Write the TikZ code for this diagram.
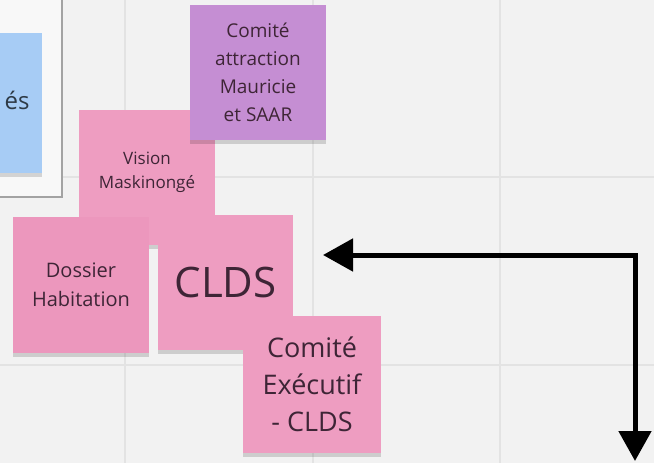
\documentclass[tikz,border=0pt]{standalone}
\usepackage{fontspec}
\setmainfont{Open Sans}
\usetikzlibrary{arrows.meta,shadows}
\definecolor{board}{HTML}{F2F2F2}
\definecolor{gridline}{HTML}{E3E3E3}
\definecolor{framefill}{HTML}{F8F8F8}
\definecolor{frameline}{HTML}{A3A3A3}
\definecolor{noteblue}{HTML}{A7CCF5}
\definecolor{notepurple}{HTML}{C58ED3}
\definecolor{notepink}{HTML}{EE9DC1}
\definecolor{notepinkdark}{HTML}{EC97BD}
\definecolor{inkpink}{HTML}{3E2536}
\definecolor{inkblue}{HTML}{2E3A46}
\begin{document}
\begin{tikzpicture}[x=1pt,y=-1pt]
				\tikzstyle{Note} = [rectangle, inner sep=0pt, align=center, text=inkpink, minimum width=136pt, minimum height=136pt, drop shadow={shadow xshift=0pt, shadow yshift=-4pt, opacity=0.15, fill=black}]
				\tikzstyle{Arrow} = [line width=5pt, {Triangle[length=30pt,width=32pt]}-{Triangle[length=30pt,width=32pt]}]
				\clip (0,0) rectangle (654,463);
				\fill [board] (0,0) rectangle (654,463);
				\foreach \x in {125,313,500} \draw [gridline, line width=1.5pt] (\x,0) -- (\x,463);
				\foreach \y in {177,365} \draw [gridline, line width=1.5pt] (0,\y) -- (654,\y);
				\draw [frameline, line width=2pt, fill=framefill] (-30,-30) rectangle (62,197);
				\node (blue) at (-26,103) [Note, fill=noteblue, minimum height=140pt] {};
				\node (blue-text) at (17,100) [text=inkblue, font=\fontsize{24}{30}\selectfont] {és};
				\node (vision) at (147,177.5) [Note, fill=notepink, minimum height=135pt, text depth=15pt, font=\fontsize{17}{24}\selectfont] {Vision\\Maskinongé};
				\node (attraction) at (258,72.5) [Note, fill=notepurple, minimum height=135pt, font=\fontsize{19}{28}\selectfont] {Comité\\attraction\\Mauricie\\et SAAR};
				\node (dossier) at (81,285) [Note, fill=notepinkdark, font=\fontsize{20}{29}\selectfont] {Dossier\\Habitation};
				\node (clds) at (225.5,282.5) [Note, fill=notepink, minimum width=135pt, minimum height=135pt, font=\fontsize{42}{50}\selectfont] {CLDS};
				\node (executif) at (312,384.5) [Note, fill=notepink, minimum width=138pt, minimum height=137pt, font=\fontsize{27}{37}\selectfont] {Comité\\Exécutif\\- CLDS};
				\coordinate (arrow-left) at (323,255);
				\coordinate (arrow-corner) at (635,255);
				\coordinate (arrow-down) at (635,461);
				\draw [Arrow] (arrow-left) -- (arrow-corner) -- (arrow-down);
			\end{tikzpicture}
\end{document}
